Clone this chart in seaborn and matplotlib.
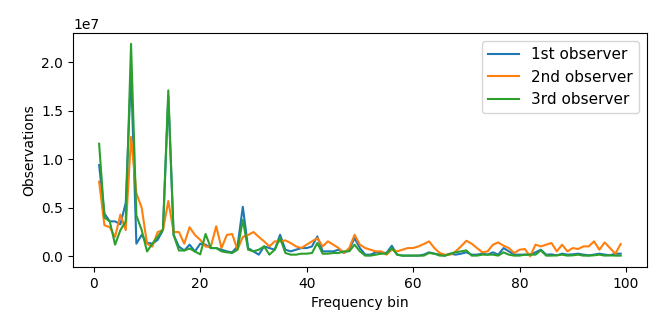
import numpy as np
import pandas as pd
import matplotlib
matplotlib.use("Agg")
import matplotlib.pyplot as plt
import seaborn as sns

# Values, in units of 1e7 observations, bins 1..99
bins = list(range(1, 100))

obs_1st = [
    0.94, 0.44, 0.36, 0.36, 0.33, 0.55, 1.90, 0.13, 0.22, 0.14,
    0.13, 0.17, 0.27, 1.65, 0.22, 0.10, 0.06, 0.12, 0.05, 0.13,
    0.12, 0.085, 0.085, 0.068, 0.051, 0.041, 0.102, 0.51, 0.085, 0.051,
    0.017, 0.102, 0.085, 0.068, 0.222, 0.068, 0.051, 0.068, 0.085, 0.085,
    0.102, 0.205, 0.051, 0.051, 0.051, 0.068, 0.034, 0.068, 0.188, 0.085,
    0.017, 0.017, 0.041, 0.04, 0.034, 0.109, 0.017, 0.007, 0.007, 0.007,
    0.007, 0.017, 0.041, 0.027, 0.017, 0.007, 0.027, 0.017, 0.027, 0.041,
    0.017, 0.017, 0.027, 0.017, 0.041, 0.017, 0.085, 0.051, 0.017, 0.017,
    0.017, 0.017, 0.041, 0.068, 0.017, 0.02, 0.01, 0.027, 0.017, 0.02,
    0.027, 0.017, 0.01, 0.017, 0.027, 0.017, 0.01, 0.027, 0.027,
]

obs_2nd = [
    0.77, 0.32, 0.30, 0.20, 0.43, 0.27, 1.23, 0.65, 0.50, 0.13,
    0.10, 0.25, 0.27, 0.57, 0.25, 0.25, 0.13, 0.30, 0.22, 0.17,
    0.10, 0.10, 0.31, 0.085, 0.22, 0.23, 0.068, 0.20, 0.22, 0.25,
    0.20, 0.154, 0.102, 0.154, 0.154, 0.164, 0.137, 0.102, 0.085, 0.12,
    0.154, 0.188, 0.102, 0.154, 0.12, 0.085, 0.034, 0.085, 0.222, 0.12,
    0.085, 0.068, 0.051, 0.051, 0.017, 0.068, 0.051, 0.068, 0.085, 0.085,
    0.102, 0.126, 0.154, 0.085, 0.034, 0.017, 0.017, 0.051, 0.102, 0.16,
    0.13, 0.085, 0.041, 0.051, 0.12, 0.143, 0.109, 0.085, 0.034, 0.068,
    0.075, 0.0, 0.12, 0.102, 0.12, 0.137, 0.051, 0.12, 0.051, 0.085,
    0.075, 0.102, 0.102, 0.154, 0.068, 0.143, 0.085, 0.027, 0.126,
]

obs_3rd = [
    1.16, 0.40, 0.36, 0.12, 0.27, 0.36, 2.19, 0.42, 0.27, 0.05,
    0.13, 0.20, 0.28, 1.71, 0.22, 0.06, 0.06, 0.08, 0.05, 0.02,
    0.23, 0.085, 0.085, 0.051, 0.041, 0.034, 0.068, 0.376, 0.068, 0.051,
    0.068, 0.102, 0.017, 0.068, 0.19, 0.034, 0.017, 0.017, 0.027, 0.027,
    0.034, 0.137, 0.027, 0.027, 0.034, 0.034, 0.051, 0.051, 0.12, 0.051,
    0.007, 0.007, 0.017, 0.027, 0.027, 0.085, 0.017, 0.007, 0.007, 0.007,
    0.007, 0.007, 0.034, 0.027, 0.007, 0.007, 0.027, 0.041, 0.051, 0.061,
    0.007, 0.007, 0.017, 0.017, 0.017, 0.007, 0.041, 0.017, 0.007, 0.007,
    0.017, 0.017, 0.017, 0.061, 0.007, 0.007, 0.01, 0.017, 0.007, 0.01,
    0.017, 0.007, 0.007, 0.01, 0.017, 0.007, 0.01, 0.007, 0.007,
]

labels = ["1st observer", "2nd observer", "3rd observer"]
colors = ["#1f77b4", "#ff7f0e", "#2ca02c"]

# Long-form table for seaborn
df = pd.concat([
    pd.DataFrame({"bin": bins, "obs": np.array(vals) * 1e7, "observer": lab})
    for vals, lab in zip([obs_1st, obs_2nd, obs_3rd], labels)
])

fig, ax = plt.subplots(figsize=(6.64, 3.32), dpi=100)
sns.lineplot(
    data=df, x="bin", y="obs", hue="observer",
    palette=colors, linewidth=1.5, ax=ax
)
ax.set_xlabel("Frequency bin")
ax.set_ylabel("Observations")
ax.legend(loc="upper right", fontsize=11)
fig.subplots_adjust(left=0.110, right=0.974, top=0.900, bottom=0.196)
fig.savefig("out.png", dpi=100)
